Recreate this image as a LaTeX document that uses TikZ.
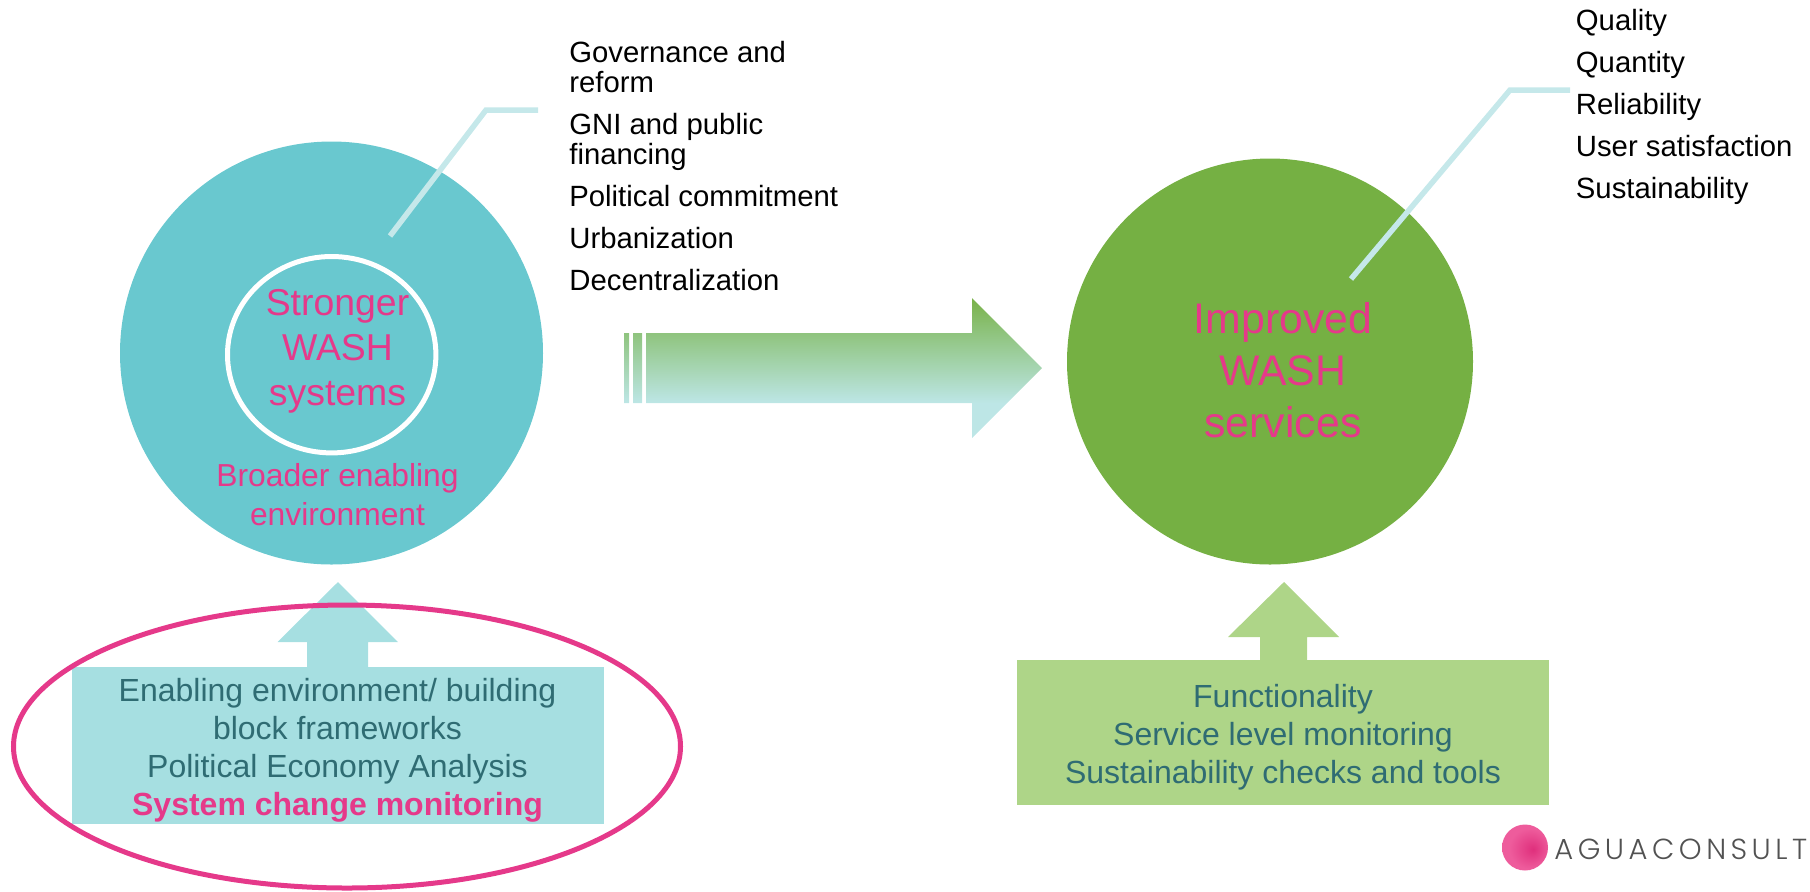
\documentclass[tikz,border=0pt]{standalone}
\usepackage{fontspec}
\setmainfont{Liberation Sans}
\newfontfamily\logofont[LetterSpace=15.5]{Poppins Light}
\definecolor{tealc}{HTML}{69C8CF}
\definecolor{greenc}{HTML}{75B043}
\definecolor{pinkc}{HTML}{E5398A}
\definecolor{paleteal}{HTML}{A6DFE1}
\definecolor{palegreen}{HTML}{AED588}
\definecolor{leader}{HTML}{C5E8EA}
\definecolor{darkteal}{HTML}{2F6C73}
\definecolor{gA}{HTML}{79B148}
\definecolor{gB}{HTML}{8FC47E}
\definecolor{gC}{HTML}{BDE6E6}
\definecolor{logoin}{HTML}{DF2F7C}
\definecolor{logoout}{HTML}{EE5C9C}
\pgfdeclareverticalshading{flowgrad}{100bp}{color(0bp)=(gC); color(25bp)=(gC); color(37.5bp)=(gC); color(62.5bp)=(gB); color(75bp)=(gA); color(100bp)=(gA)}
\pgfdeclareradialshading{logograd}{\pgfpoint{9bp}{-2bp}}{color(0bp)=(logoin); color(22bp)=(logoout); color(50bp)=(logoout)}
\tikzset{
  x=0.5pt,y=-0.5pt,
  disc/.style={circle,inner sep=0pt,outer sep=0pt,minimum size=#1},
  leaderline/.style={draw=leader,line width=2.75pt,line join=miter},
  blocktext/.style={align=center,inner sep=0pt,font=\fontsize{16}{19}\selectfont},
  listtext/.style={align=left,inner sep=0pt,anchor=north west,font=\fontsize{14.65}{15}\selectfont,text=black},
  hubtext/.style={align=center,inner sep=0pt,text=pinkc},
}
\begin{document}
\begin{tikzpicture}
\useasboundingbox (0,0) rectangle (1810,891);
% big circles
\node[disc=211.5pt,fill=tealc] (left) at (331.5,353) {};
\node[disc=203pt,fill=greenc] (right) at (1270,361.5) {};
\coordinate (inner) at (331.7,354.7);
\draw[white,line width=2.5pt] (inner) ellipse (104.2 and 98.2);
% leader lines
\coordinate (la) at (390,236); \coordinate (lb) at (486,110); \coordinate (lc) at (538,110);
\draw[leaderline] (la) -- (lb) -- (lc);
\coordinate (ra) at (1351,279); \coordinate (rb) at (1510,90); \coordinate (rc) at (1570,90);
\draw[leaderline] (ra) -- (rb) -- (rc);
% big arrow
\begin{scope}
\clip (624,333) rectangle (629,403) (633,333) rectangle (642,403)
  (646,333) -- (972,333) -- (972,298) -- (1042,368) -- (972,438) -- (972,403) -- (646,403) -- cycle;
\shade[shading=flowgrad] (624,298) rectangle (1042,438);
\end{scope}
% up arrows and boxes
\fill[paleteal] (338,582) -- (398,642) -- (368,642) -- (368,668) -- (307,668) -- (307,642) -- (277.5,642) -- cycle;
\node[fill=paleteal,inner sep=0pt,minimum width=266pt,minimum height=78.5pt] (leftbox) at (337.75,745.5) {};
\fill[palegreen] (1284,582) -- (1339,637) -- (1307,637) -- (1307,662) -- (1260,662) -- (1260,637) -- (1228,637) -- cycle;
\node[fill=palegreen,inner sep=0pt,minimum width=266pt,minimum height=72.5pt] (rightbox) at (1283,732.5) {};
% pink ellipse
\draw[draw=pinkc,line width=2.5pt] (347,746.5) ellipse (333.5 and 141.5);
% hub text
\node[hubtext,font=\fontsize{18.7}{22.5}\selectfont] (t1) at (337.5,351) {Stronger\\WASH\\systems};
\node[hubtext,font=\fontsize{21.4}{26}\selectfont] (t2) at (1283,370) {Improved\\WASH\\services};
\node[hubtext,font=\fontsize{15.9}{19.5}\selectfont] (t3) at (337.5,495) {Broader enabling\\environment};
% box text
\node[blocktext,text=darkteal] (t4) at (337.5,750.5) {Enabling environment/ building\\block frameworks\\Political Economy Analysis\\\textcolor{pinkc}{\textbf{System change monitoring}}};
\node[blocktext,text=darkteal] (t5) at (1283,737) {Functionality\\Service level monitoring\\Sustainability checks and tools};
% lists
\node[listtext] (l1) at (569,41) {Governance and\\reform\\[6pt]GNI and public\\financing\\[6pt]Political commitment\\[6pt]Urbanization\\[6pt]Decentralization};
\node[listtext] (l2) at (1575.5,8.5) {Quality\\[6pt]Quantity\\[6pt]Reliability\\[6pt]User satisfaction\\[6pt]Sustainability};
% logo
\shade[shading=logograd] (1525,847.5) circle (23);
\node[inner sep=0pt,anchor=base west,font=\logofont\fontsize{14.5}{15}\selectfont,text=black!68] (logo) at (1554,859) {AGUACONSULT};
\end{tikzpicture}
\end{document}
